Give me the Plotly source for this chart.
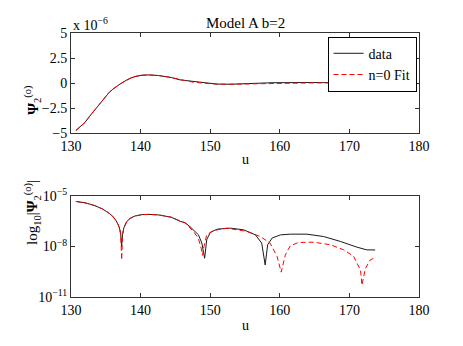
import numpy as np
import plotly.graph_objects as go

# values (Psi in units of 1e-6)
u_data = [130.7, 131.3, 132.0, 132.7, 133.5, 134.5, 135.0, 135.5, 136.0, 136.5, 136.8,
          137.0, 137.15, 137.27, 137.4, 137.6, 138.0, 138.5, 139.2, 140.2, 141.2, 142.6,
          144.4, 145.7, 146.4, 147.1, 148.3, 148.8, 149.2, 149.5, 150.0, 151.0, 152.9,
          154.8, 156.5, 157.4, 157.9, 158.25, 158.9, 160.1, 161.5, 163.9, 166.3, 168.7,
          171.1, 172.5, 173.7]
psi_data = [-4.75, -4.4, -3.94, -3.3, -2.6, -1.72, -1.3, -0.93, -0.62, -0.33, -0.19,
            -0.11, -0.05, -0.01, 0.05, 0.13, 0.3, 0.47, 0.65, 0.78, 0.81, 0.75,
            0.55, 0.31, 0.26, 0.15, 0.05, 0.016, 0.002, -0.025, -0.068, -0.107, -0.123,
            -0.098, -0.049, -0.016, -0.0008, 0.0126, 0.032, 0.049, 0.054, 0.054, 0.039, 0.02,
            0.0091, 0.0063, 0.0062]

u_fit = [130.7, 131.3, 132.0, 132.7, 133.5, 134.5, 135.0, 135.5, 136.0, 136.5, 136.8,
         137.0, 137.15, 137.28, 137.4, 137.6, 138.0, 138.5, 139.2, 140.2, 141.2, 142.6,
         144.4, 145.7, 146.4, 147.6, 148.3, 148.7, 148.9, 149.1, 149.5, 150.5, 152.4,
         155.3, 157.2, 158.6, 159.6, 160.2, 160.8, 161.5, 162.7, 164.9, 167.3, 169.2,
         170.6, 171.6, 171.8, 172.3, 173.0, 173.7]
psi_fit = [-4.75, -4.4, -3.94, -3.3, -2.6, -1.72, -1.3, -0.93, -0.62, -0.33, -0.19,
           -0.11, -0.05, -0.0016, 0.05, 0.13, 0.3, 0.47, 0.65, 0.78, 0.81, 0.75,
           0.55, 0.31, 0.25, 0.078, 0.03, 0.008, 0.003, -0.01, -0.049, -0.089, -0.123,
           -0.078, -0.039, -0.016, -0.0026, -0.0003, 0.0032, 0.011, 0.0174, 0.018, 0.0126, 0.0063,
           0.0026, 0.0004, 0.00005, -0.0005, -0.0016, -0.0022]

x_ticks = [130, 140, 150, 160, 170, 180]
y_ticks_top = [-5, -2.5, 0, 2.5, 5]
y_ticks_top_text = ["\u22125", "\u22122.5", "0", "2.5", "5"]
y_ticks_log = [1e-11, 1e-8, 1e-5]
y_ticks_log_text = ["10<sup>\u221211</sup>", "10<sup>\u22128</sup>", "10<sup>\u22125</sup>"]

FONT = "Liberation Serif"
BLACK = "#1a1a1a"
RED = "#ff0000"
DASH = "5px,3px"

fig = go.Figure()
fig.add_trace(go.Scatter(x=u_data, y=psi_data, mode="lines", name="data",
                         line=dict(color=BLACK, width=1), xaxis="x", yaxis="y"))
fig.add_trace(go.Scatter(x=u_fit, y=psi_fit, mode="lines", name="n=0 Fit",
                         line=dict(color=RED, width=1, dash=DASH), xaxis="x", yaxis="y"))
fig.add_trace(go.Scatter(x=u_data, y=np.abs(psi_data) * 1e-6, mode="lines", showlegend=False,
                         line=dict(color=BLACK, width=1), xaxis="x2", yaxis="y2"))
fig.add_trace(go.Scatter(x=u_fit, y=np.abs(psi_fit) * 1e-6, mode="lines", showlegend=False,
                         line=dict(color=RED, width=1, dash=DASH), xaxis="x2", yaxis="y2"))

axis_style = dict(showline=True, linecolor="#333333", linewidth=1, mirror="ticks",
                  ticks="inside", ticklen=4, tickcolor="#333333", showgrid=False, zeroline=False,
                  automargin=False, tickfont=dict(family=FONT, size=14, color="black"))

# the page body has an 8px margin, so the figure is drawn 8px smaller and shifted
fig.update_layout(
    width=455, height=338,
    margin=dict(l=63, r=44, t=25, b=49),
    paper_bgcolor="white", plot_bgcolor="white",
    font=dict(family=FONT, size=14, color="black"),
    showlegend=True,
    legend=dict(x=0.993, y=0.986, xanchor="right", yanchor="top", bgcolor="white",
                bordercolor="black", borderwidth=1, font=dict(family=FONT, size=14),
                tracegroupgap=0, itemwidth=30),
    xaxis=dict(range=[130, 180], tickvals=x_ticks, domain=[0, 1], anchor="y", **axis_style),
    yaxis=dict(range=[-5, 5], tickvals=y_ticks_top, ticktext=y_ticks_top_text,
               domain=[0.621, 1], anchor="x", **axis_style),
    xaxis2=dict(range=[130, 180], tickvals=x_ticks, domain=[0, 1], anchor="y2", **axis_style),
    yaxis2=dict(type="log", range=[-11, -5], tickvals=y_ticks_log, ticktext=y_ticks_log_text,
                domain=[0, 0.3826], anchor="x2", **axis_style),
    annotations=[
        dict(text="Model A b=2", x=0.5, y=1 + 20 / 264, xref="paper", yref="paper",
             showarrow=False, font=dict(size=15)),
        dict(text="x 10<sup>\u22126</sup>", x=0, y=1.0, xref="paper", yref="paper",
             xanchor="left", yanchor="bottom", showarrow=False, yshift=-2),
        dict(text="u", x=0.5, y=0.621, xref="paper", yref="paper", yanchor="top",
             showarrow=False, yshift=-17),
        dict(text="u", x=0.5, y=0, xref="paper", yref="paper", yanchor="top",
             showarrow=False, yshift=-19),
        dict(text="<b>\u03a8</b><sub>2</sub><sup>(o)</sup>", x=-0.145, y=0.81, xref="paper",
             yref="paper", textangle=-90, showarrow=False, font=dict(size=15)),
        dict(text="log<sub>10</sub>|<b>\u03a8</b><sub>2</sub><sup>(o)</sup>|", x=-0.145, y=0.19,
             xref="paper", yref="paper", textangle=-90, showarrow=False, font=dict(size=15)),
    ],
)

fig.write_html("out.html")
